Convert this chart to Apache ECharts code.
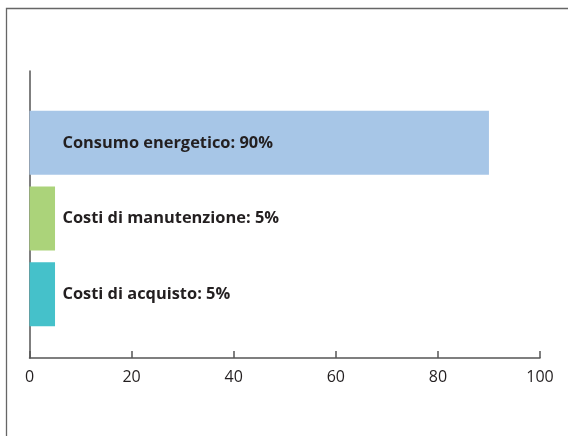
<!DOCTYPE html>
<html><head><meta charset="utf-8">
<script src="https://cdn.jsdelivr.net/npm/echarts@6/dist/echarts.min.js"></script>
<style>html,body{margin:0;padding:0;background:#fff}#c{width:568px;height:436px}</style>
</head><body><div id="c"></div>
<script>
const categories = ["Costi di acquisto", "Costi di manutenzione", "Consumo energetico"];
const values = [5, 5, 90];
const colors = ["#45c1ca", "#abd37a", "#a7c6e7"];
const xTicks = [0, 20, 40, 60, 80, 100];

const chart = echarts.init(document.getElementById('c'), null, {renderer: 'canvas'});
const axisColor = '#555';
chart.setOption({
  animation: false,
  backgroundColor: '#fff',
  textStyle: {fontFamily: '"Open Sans", "Noto Sans", sans-serif'},
  graphic: [{
    type: 'rect', silent: true,
    shape: {x: 6.5, y: 8.5, width: 700, height: 600},
    style: {fill: 'none', stroke: '#666', lineWidth: 1.3}
  }],
  grid: [
    {left: 29.5, right: 28, top: 71, bottom: 78},
    {left: 29.5, right: 28, top: 105, bottom: 104}
  ],
  xAxis: [
    {gridIndex: 0, type: 'value', min: xTicks[0], max: xTicks[xTicks.length-1], interval: 20,
     axisLine: {show: true, lineStyle: {color: axisColor, width: 1.5}},
     axisTick: {show: true, inside: true, length: 7, lineStyle: {color: axisColor, width: 1.5}},
     axisLabel: {color: '#231f20', fontSize: 16, margin: 11},
     splitLine: {show: false}},
    {gridIndex: 1, type: 'value', min: 0, max: 100, show: false, splitLine: {show: false}}
  ],
  yAxis: [
    {gridIndex: 0, type: 'value', min: 0, max: 1,
     axisLine: {show: true, lineStyle: {color: axisColor, width: 1.5}},
     axisTick: {show: false}, axisLabel: {show: false}, splitLine: {show: false}},
    {gridIndex: 1, type: 'category', data: categories, show: false}
  ],
  series: [{
    type: 'bar', xAxisIndex: 1, yAxisIndex: 1,
    barWidth: 64,
    data: values.map((v, i) => ({value: v, itemStyle: {color: colors[i]}})),
    label: {
      show: true, position: [33, '50%'], verticalAlign: 'middle', align: 'left',
      color: '#231f20', fontWeight: 'bold', fontSize: 16.4,
      formatter: p => p.name + ': ' + p.value + '%'
    }
  }]
});
</script></body></html>
